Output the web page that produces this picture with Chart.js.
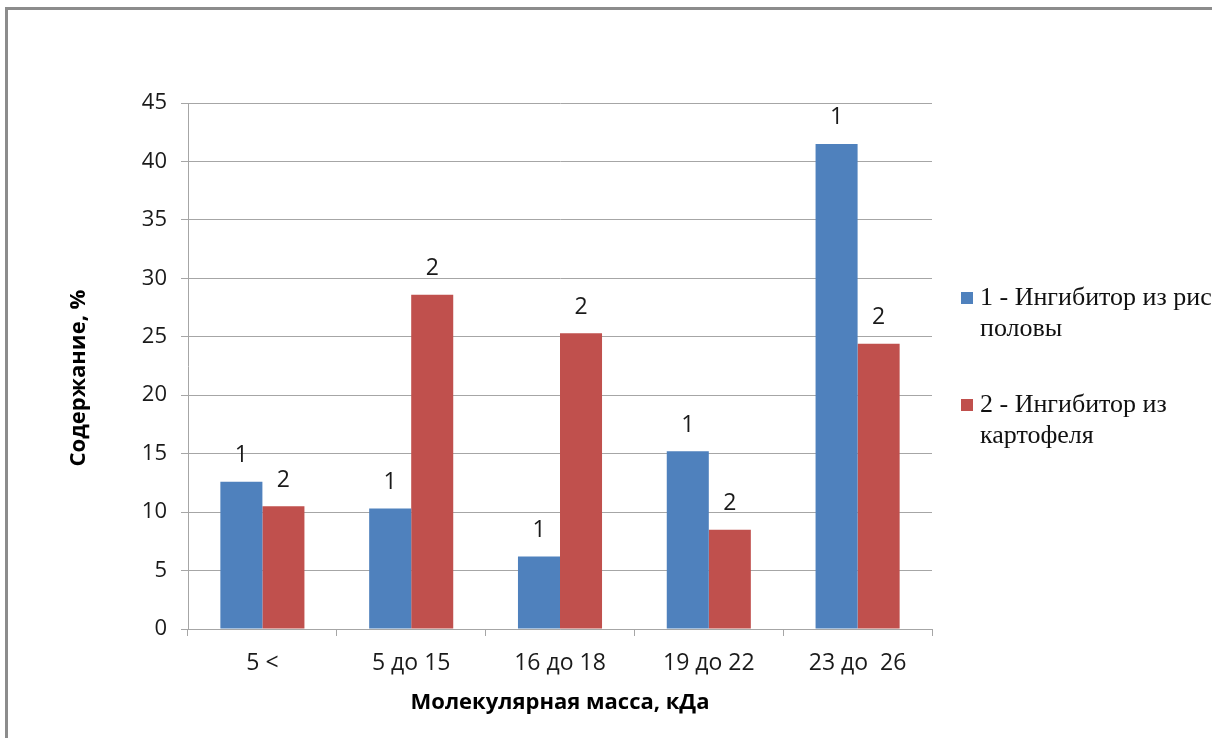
<!DOCTYPE html>
<html>
<head>
<meta charset="utf-8">
<script src="https://cdn.jsdelivr.net/npm/chart.js@4.4.1/dist/chart.umd.min.js"></script>
<style>
  html, body { margin: 0; padding: 0; background: #fff; overflow: hidden; }
  #wrap { position: relative; width: 1212px; height: 738px; }
  #frame { position: absolute; left: 5px; top: 7px; width: 1400px; height: 900px;
           border: 3px solid #8c8c8c; box-sizing: border-box; pointer-events: none; }
  canvas { position: absolute; left: 0; top: 0; }
</style>
</head>
<body>
<div id="wrap">
  <canvas id="c" width="1212" height="738"></canvas>
  <div id="frame"></div>
</div>
<script>
// Molecular-mass ranges (kDa) and share of each fraction, %
const categories = ['5 <', '5 до 15', '16 до 18', '19 до 22', '23 до  26'];
const riceValues = [12.6, 10.3, 6.2, 15.2, 41.5];
const potatoValues = [10.5, 28.6, 25.3, 8.5, 24.4];
const seriesNames = ['1 - Ингибитор из рисовой', '2 - Ингибитор из картофеля'];
const legendLines = [['1 - Ингибитор из рисовой', 'половы'], ['2 - Ингибитор из', 'картофеля']];
const seriesMarks = ['1', '2'];
const yTicks = [0, 5, 10, 15, 20, 25, 30, 35, 40, 45];
const yTitle = 'Содержание, %';
const xTitle = 'Молекулярная масса, кДа';

const BLUE = '#4f81bd';
const RED = '#c0504d';
const GRID = '#a6a6a6';
const SANS = '"Open Sans", Lato, sans-serif';
const SERIF = '"Liberation Serif", "Times New Roman", serif';

// Draws the "1"/"2" marks above the bars, the axis titles and the side legend
const decorations = {
  id: 'decorations',
  afterDatasetsDraw(chart) {
    const ctx = chart.ctx;
    ctx.save();
    ctx.fillStyle = '#1a1a1a';
    ctx.font = '23px ' + SANS;
    ctx.textAlign = 'center';
    ctx.textBaseline = 'middle';
    chart.data.datasets.forEach((ds, i) => {
      chart.getDatasetMeta(i).data.forEach(bar => {
        ctx.fillText(seriesMarks[i], bar.x, bar.y - 26);
      });
    });

    const area = chart.chartArea;
    ctx.font = 'bold 22px ' + SANS;
    ctx.fillStyle = '#000';
    ctx.fillText(xTitle, (area.left + area.right) / 2, 703);
    ctx.save();
    ctx.translate(79, 378);
    ctx.rotate(-Math.PI / 2);
    ctx.fillText(yTitle, 0, 0);
    ctx.restore();

    const colors = [BLUE, RED];
    const tops = [298, 405];
    ctx.font = '26px ' + SERIF;
    ctx.textAlign = 'left';
    legendLines.forEach((lines, i) => {
      ctx.fillStyle = colors[i];
      ctx.fillRect(961, tops[i] - 6, 12, 12);
      ctx.fillStyle = '#111';
      lines.forEach((t, k) => ctx.fillText(t, 980, tops[i] + k * 31));
    });
    ctx.restore();
  }
};

new Chart(document.getElementById('c'), {
  type: 'bar',
  data: {
    labels: categories,
    datasets: [
      { label: seriesNames[0], data: riceValues, backgroundColor: BLUE },
      { label: seriesNames[1], data: potatoValues, backgroundColor: RED }
    ]
  },
  options: {
    responsive: false,
    animation: false,
    events: [],
    layout: { padding: { left: 0, top: 103, right: 280, bottom: 0 } },
    datasets: { bar: { categoryPercentage: 0.565, barPercentage: 1.0 } },
    plugins: { legend: { display: false }, tooltip: { enabled: false } },
    scales: {
      x: {
        afterFit(scale) { scale.height = 109; },
        grid: { offset: true, drawOnChartArea: false, drawTicks: true, tickLength: 7, color: GRID },
        border: { color: GRID, width: 1 },
        ticks: { color: '#1a1a1a', font: { family: SANS, size: 23 }, padding: 14, maxRotation: 0 }
      },
      y: {
        min: 0, max: 45,
        afterFit(scale) { scale.width = 188; },
        afterBuildTicks(scale) { scale.ticks = yTicks.map(v => ({ value: v })); },
        grid: { color: GRID, tickLength: 7, lineWidth: 1 },
        border: { color: GRID, width: 1 },
        ticks: { color: '#1a1a1a', font: { family: SANS, size: 22 }, padding: 14 }
      }
    }
  },
  plugins: [decorations]
});
</script>
</body>
</html>
